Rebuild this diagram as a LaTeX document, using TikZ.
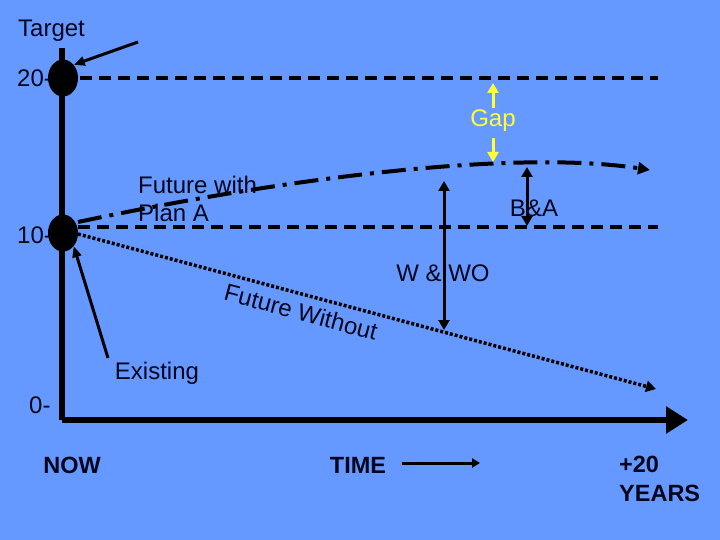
\documentclass[tikz,border=0pt]{standalone}
\usepackage{fontspec}
\setmainfont{Liberation Sans}
\usetikzlibrary{arrows.meta,shapes.geometric}
\definecolor{bg}{HTML}{6699FF}
\definecolor{ink}{HTML}{05051E}
\definecolor{gapy}{HTML}{FFFF33}
\tikzset{
  lbl/.style={text=ink,inner sep=0pt,font=\fontsize{24}{28}\selectfont},
  blbl/.style={text=ink,inner sep=0pt,font=\fontsize{23.5}{29}\selectfont\bfseries},
  dot/.style={ellipse,fill=black,minimum width=30pt,minimum height=37pt,inner sep=0pt},
  tip/.style={-{Triangle[length=11pt,width=9pt]}},
  dashline/.style={line width=4pt,dash pattern=on 12pt off 7pt},
}
\begin{document}
\begin{tikzpicture}[x=1pt,y=-1pt]
\fill[bg] (0,0) rectangle (720,540);
\useasboundingbox (0,0) rectangle (720,540);
% axes
\coordinate (top) at (62,48);
\coordinate (o) at (62,420);
\coordinate (xend) at (688,420);
\draw[line width=6pt] (top) -- (o);
\draw[line width=6pt,-{Triangle[length=22pt,width=26pt]}] (o) -- (xend);
% dots
\node[dot] (e20) at (63,78) {};
\node[dot] (e10) at (63,233) {};
% labels on y axis
\node[lbl,anchor=west] (l20) at (17,78) {20-};
\node[lbl,anchor=west] (l10) at (17,235) {10-};
\node[lbl,anchor=west] (l0) at (29,405) {0-};
\node[lbl,anchor=west] (tgt) at (18,31) {Target};
\coordinate (tgtA) at (138,42);
\draw[line width=3pt,tip] (tgtA) -- (e20.north east);
% dashed lines
\coordinate (d20) at (658,78);
\coordinate (d10) at (658,227);
\draw[dashline] (e20.east) ++(2,0) -- (d20);
\draw[dashline] (78,227) -- (d10);
% future with plan A
\coordinate (pa) at (78,222);
\coordinate (paend) at (650,170);
\draw[line width=4pt,dash pattern=on 24pt off 8pt on 4pt off 8pt,-{Triangle[length=12pt,width=12pt]}]
  (pa) .. controls (300,175) and (520,150) .. (paend);
\node[lbl,anchor=north west,align=left] (fwp) at (138,176) {Future with\\Plan A};
% future without
\coordinate (fw0) at (78,234);
\coordinate (fw1) at (656,389);
\draw[line width=3.5pt,dash pattern=on 3pt off 2pt,-{Triangle[length=10pt,width=11pt]}] (fw0) -- (fw1);
\node[lbl,rotate=-15] (fwo) at (301,312) {Future Without};
% gap
\node[text=gapy,inner sep=0pt,font=\fontsize{24}{28}\selectfont] (gap) at (493,121) {Gap};
\coordinate (g1) at (493,83);
\coordinate (g2) at (493,162);
\draw[gapy,line width=3pt,-{Triangle[length=10pt,width=11pt]}] (gap.north) ++(0,-2) -- (g1);
\draw[gapy,line width=3pt,-{Triangle[length=10pt,width=11pt]}] (gap.south) ++(0,6) -- (g2);
% B&A
\coordinate (ba1) at (527,167);
\coordinate (ba2) at (527,226);
\draw[line width=3pt,{Triangle[length=10pt,width=11pt]}-{Triangle[length=10pt,width=11pt]}] (ba2) -- (ba1);
\node[lbl] (ba) at (534,208) {B\&A};
% W & WO
\coordinate (w1) at (444,181);
\coordinate (w2) at (444,330);
\draw[line width=3pt,{Triangle[length=10pt,width=11pt]}-{Triangle[length=10pt,width=11pt]}] (w1) -- (w2);
\node[lbl] (wwo) at (443,273) {W \& WO};
% existing
\coordinate (ex0) at (108,358);
\draw[line width=3pt,tip] (ex0) -- (e10.south east);
\node[lbl] (exi) at (157,373) {Existing};
% bottom labels
\node[blbl] (now) at (72,465) {NOW};
\node[blbl] (time) at (358,465) {TIME};
\coordinate (t1) at (402,463);
\coordinate (t2) at (480,463);
\draw[line width=3pt,-{Triangle[length=8pt,width=9pt]}] (t1) -- (t2);
\node[blbl,align=left,anchor=north west] (yrs) at (619,456) {+20\\YEARS};
\end{tikzpicture}
\end{document}
